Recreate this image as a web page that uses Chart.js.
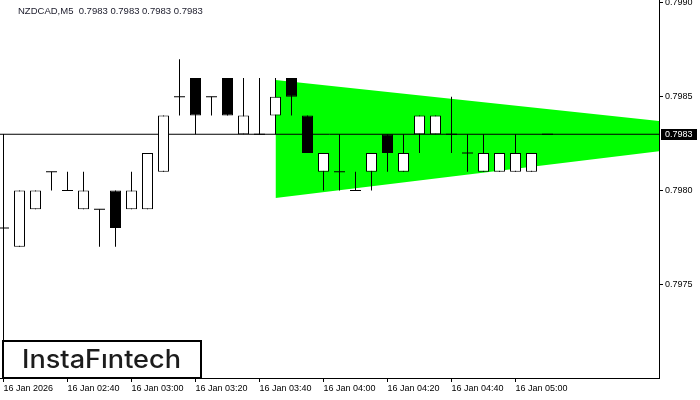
<!DOCTYPE html>
<html>
<head>
<meta charset="utf-8">
<script src="https://cdn.jsdelivr.net/npm/chart.js@4/dist/chart.umd.min.js"></script>
<style>
  html, body { margin: 0; padding: 0; background: #fff; }
  #wrap { width: 700px; height: 400px; position: relative; }
</style>
</head>
<body>
<div id="wrap"><canvas id="chart" width="700" height="400"></canvas></div>
<script>
// ---- NZDCAD M5 candles (index 0 = 02:20) ----
const opens  = [0.7978, 0.7977, 0.7979, 0.7981, 0.7980, 0.7979, 0.7979, 0.7980, 0.7979, 0.7979,
                0.7981, 0.7985, 0.7986, 0.7985, 0.7986, 0.7983, 0.7983, 0.7984, 0.7986, 0.7984,
                0.7981, 0.7981, 0.7980, 0.7981, 0.7983, 0.7981, 0.7983, 0.7983, 0.7983, 0.7982,
                0.7981, 0.7981, 0.7981, 0.7981, 0.7983];
const highs  = [0.7978, 0.7980, 0.7980, 0.7981, 0.7981, 0.7981, 0.7979, 0.7980, 0.7981, 0.7982,
                0.7984, 0.7987, 0.7986, 0.7985, 0.7986, 0.7986, 0.7986, 0.7986, 0.7986, 0.7984,
                0.7982, 0.7983, 0.7981, 0.7982, 0.7983, 0.7983, 0.7984, 0.7984, 0.7985, 0.7983,
                0.7983, 0.7982, 0.7983, 0.7982, 0.7983];
const lows   = [0.7977, 0.7977, 0.7979, 0.7980, 0.7980, 0.7979, 0.7977, 0.7977, 0.7979, 0.7979,
                0.7981, 0.7984, 0.7983, 0.7984, 0.7984, 0.7983, 0.7983, 0.7983, 0.7984, 0.7982,
                0.7980, 0.7980, 0.7980, 0.7980, 0.7981, 0.7981, 0.7982, 0.7983, 0.7982, 0.7981,
                0.7981, 0.7981, 0.7981, 0.7981, 0.7983];
const closes = [0.7978, 0.7980, 0.7980, 0.7981, 0.7980, 0.7980, 0.7979, 0.7978, 0.7980, 0.7982,
                0.7984, 0.7985, 0.7984, 0.7985, 0.7984, 0.7984, 0.7983, 0.7985, 0.7985, 0.7982,
                0.7982, 0.7981, 0.7980, 0.7982, 0.7982, 0.7982, 0.7984, 0.7984, 0.7983, 0.7982,
                0.7982, 0.7982, 0.7982, 0.7982, 0.7983];

// triangle pattern edges (candle index, price)
const triUpper = [{ x: 17, y: 0.79859 }, { x: 41, y: 0.79837 }];
const triLower = [{ x: 17, y: 0.79796 }, { x: 41, y: 0.79821 }];

// axis ticks
const xTickIdx    = [0, 4, 8, 12, 16, 20, 24, 28, 32];
const xTickLabels = ['16 Jan 2026', '16 Jan 02:40', '16 Jan 03:00', '16 Jan 03:20', '16 Jan 03:40',
                     '16 Jan 04:00', '16 Jan 04:20', '16 Jan 04:40', '16 Jan 05:00'];
const yTickVals   = [0.7975, 0.7980, 0.7985, 0.7990];

const symbolTitle = 'NZDCAD,M5  0.7983 0.7983 0.7983 0.7983';
const lastPrice = closes[closes.length - 1];

const X_MIN = -0.21875, X_MAX = 40.96875;
const Y_MIN = 0.7970, Y_MAX = 0.799016;
const AXIS_FONT = { family: 'Liberation Sans', size: 9 };

// build datasets from the OHLC arrays
const wickData = [], bodyData = [], bodyColors = [], dojiData = [];
opens.forEach((o, i) => {
    const c = closes[i];
    if (highs[i] > lows[i]) wickData.push({ x: i, y: [lows[i], highs[i]] });
    if (o === c) {
        dojiData.push({ x: i, y: o });
    } else {
        bodyData.push({ x: i, y: [o, c] });
        bodyColors.push(c > o ? '#ffffff' : '#000000');
    }
});

const overlayPlugin = {
    id: 'overlay',
    afterDraw(chart) {
        const ctx = chart.ctx;
        const yS = chart.scales.y;
        ctx.save();

        // title
        ctx.fillStyle = '#1a1a2a';
        ctx.font = '9.5px "Liberation Sans"';
        ctx.textBaseline = 'middle';
        ctx.textAlign = 'left';
        ctx.fillText(symbolTitle, 18, 11);

        // current price tag
        const py = Math.round(yS.getPixelForValue(lastPrice));
        ctx.font = '9px "Liberation Sans"';
        ctx.fillStyle = '#000';
        ctx.fillRect(661, py - 5, 36, 11);
        ctx.fillStyle = '#fff';
        ctx.fillText(lastPrice.toFixed(4), 665, py + 0.5);

        // logo box
        ctx.fillStyle = '#fff';
        ctx.fillRect(3, 341, 198, 37);
        ctx.strokeStyle = '#000';
        ctx.lineWidth = 2;
        ctx.strokeRect(3, 341, 198, 37);
        ctx.fillStyle = '#1c1c1c';
        ctx.font = '500 25px Inter';
        ctx.textAlign = 'left';
        ctx.textBaseline = 'alphabetic';
        const logo = 'InstaFıntech';
        const w = ctx.measureText(logo).width;
        ctx.translate(22, 368);
        ctx.scale(159 / w, 1);
        ctx.fillText(logo, 0, 0);
        ctx.restore();
    }
};

new Chart(document.getElementById('chart'), {
    type: 'bar',
    data: {
        datasets: [
            {
                type: 'line', data: triUpper, fill: '+1', backgroundColor: '#00ff00',
                borderWidth: 0, pointRadius: 0, order: 10
            },
            {
                type: 'line', data: triLower, fill: false,
                borderWidth: 0, pointRadius: 0, order: 10
            },
            {
                type: 'line',
                data: [{ x: X_MIN, y: lastPrice }, { x: X_MAX, y: lastPrice }],
                borderColor: '#000', borderWidth: 1, pointRadius: 0, order: 6
            },
            {
                type: 'line',
                data: [{ x: 0, y: lastPrice }, { x: 0, y: Y_MIN }],
                borderColor: '#000', borderWidth: 1, pointRadius: 0, order: 6
            },
            {
                data: wickData, backgroundColor: '#000', borderWidth: 0,
                barThickness: 1, grouped: false, inflateAmount: 0, order: 5
            },
            {
                type: 'line', data: dojiData, showLine: false,
                pointStyle: 'line', pointRadius: 5.5, pointBorderWidth: 1,
                pointBorderColor: '#000', order: 3
            },
            {
                data: bodyData, backgroundColor: bodyColors, borderColor: '#000', borderWidth: 1,
                borderSkipped: false, barThickness: 11, grouped: false, inflateAmount: 0, order: 2
            }
        ]
    },
    options: {
        responsive: false,
        animation: false,
        layout: { padding: 0, autoPadding: false },
        plugins: {
            legend: { display: false },
            tooltip: { enabled: false }
        },
        scales: {
            x: {
                type: 'linear',
                min: X_MIN,
                max: X_MAX,
                offset: false,
                grid: { display: true, drawOnChartArea: false, drawTicks: true, tickLength: 4, color: '#000', offset: false },
                border: { display: true, color: '#000', width: 1 },
                ticks: {
                    autoSkip: false, maxRotation: 0, align: 'start', padding: 1,
                    color: '#000', font: AXIS_FONT,
                    callback: (v, i) => xTickLabels[i]
                },
                afterBuildTicks: s => { s.ticks = xTickIdx.map(v => ({ value: v })); },
                afterFit: s => { s.height = 22; s.paddingLeft = 0; s.paddingRight = 0; }
            },
            y: {
                position: 'right',
                min: Y_MIN,
                max: Y_MAX,
                grid: { display: true, drawOnChartArea: false, drawTicks: true, tickLength: 4, color: '#000' },
                border: { display: true, color: '#000', width: 1 },
                ticks: {
                    padding: 2, color: '#000', font: AXIS_FONT,
                    callback: v => v.toFixed(4)
                },
                afterBuildTicks: s => { s.ticks = yTickVals.map(v => ({ value: v })); },
                afterFit: s => { s.width = 41; s.paddingTop = 0; s.paddingBottom = 0; }
            }
        }
    },
    plugins: [overlayPlugin]
});
</script>
</body>
</html>
